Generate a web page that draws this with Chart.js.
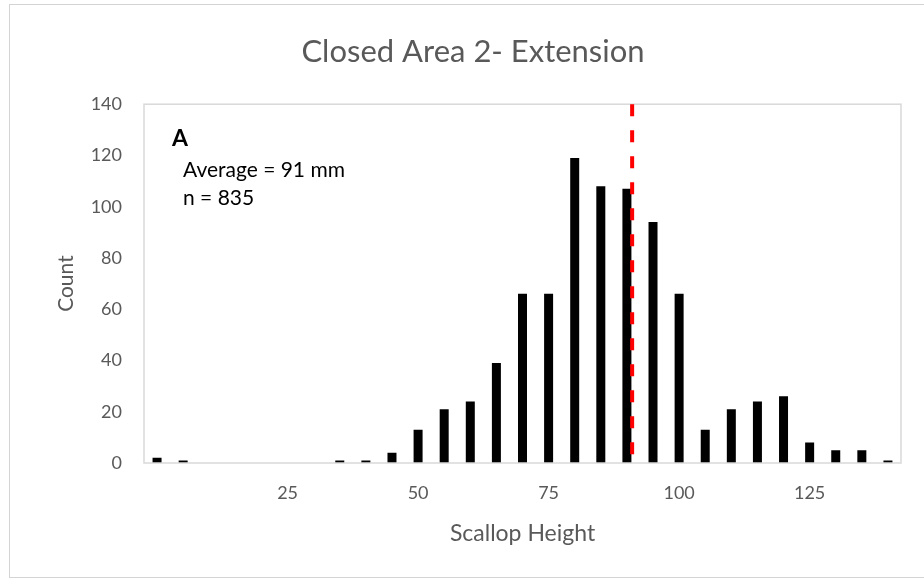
<!DOCTYPE html>
<html>
<head>
<meta charset="utf-8">
<title>Closed Area 2- Extension</title>
<script src="https://cdn.jsdelivr.net/npm/chart.js@4.4.1/dist/chart.umd.min.js"></script>
<style>
  html, body { margin: 0; padding: 0; background: #ffffff; overflow: hidden; }
  canvas { position: absolute; left: 0; top: 0; }
  #frame {
    position: absolute; left: 9px; top: 4px; width: 1000px; height: 572px;
    border: 1px solid #d4d4d4; pointer-events: none;
  }
</style>
</head>
<body>
<canvas id="chart" width="924" height="580"></canvas>
<div id="frame"></div>
<script>
// Shell height bins (mm) and the number of scallops measured in each
const heightBins = [0, 5, 10, 15, 20, 25, 30, 35, 40, 45, 50, 55, 60, 65, 70,
                    75, 80, 85, 90, 95, 100, 105, 110, 115, 120, 125, 130, 135, 140];
const counts     = [2, 1, 0, 0, 0, 0, 0, 1, 1, 4, 13, 21, 24, 39, 66,
                    66, 119, 108, 107, 94, 66, 13, 21, 24, 26, 8, 5, 5, 1];

// Labelled positions along the height axis
const xTickValues = [25, 50, 75, 100, 125];

// Summary statistics shown on the chart
const panelLetter = 'A';
const averageHeight = 91;
const sampleSize = 835;

const GREY_TEXT = '#595959';
const FONT = "Lato, 'Open Sans', 'Liberation Sans', sans-serif";
Chart.defaults.font.family = FONT;

// Light box around the plotting area, drawn over the bar bases
const plotFrame = {
  id: 'plotFrame',
  afterDatasetsDraw(chart) {
    const { ctx, chartArea: a } = chart;
    ctx.save();
    ctx.strokeStyle = '#d9d9d9';
    ctx.lineWidth = 1.5;
    ctx.strokeRect(a.left, a.top, a.right - a.left, a.bottom - a.top);
    ctx.restore();
  }
};

// Dashed red marker at the mean shell height
const averageMarker = {
  id: 'averageMarker',
  afterDatasetsDraw(chart) {
    const { ctx, chartArea: a, scales } = chart;
    const x = scales.x.getPixelForValue(averageHeight);
    ctx.save();
    ctx.strokeStyle = '#ff0000';
    ctx.lineWidth = 4;
    ctx.setLineDash([12, 14]);
    ctx.beginPath();
    ctx.moveTo(x, a.top);
    ctx.lineTo(x, a.bottom);
    ctx.stroke();
    ctx.restore();
  }
};

// Panel letter and summary text in the upper-left corner
const summaryText = {
  id: 'summaryText',
  afterDraw(chart) {
    const { ctx, chartArea: a } = chart;
    ctx.save();
    ctx.fillStyle = '#000000';
    ctx.textAlign = 'left';
    ctx.textBaseline = 'middle';
    ctx.font = `bold 23px ${FONT}`;
    ctx.fillText(panelLetter, a.left + 28, 139);
    ctx.font = `21px ${FONT}`;
    ctx.fillText(`Average = ${averageHeight} mm`, a.left + 39, 170);
    ctx.fillText(`n = ${sampleSize}`, a.left + 39, 198);
    ctx.restore();
  }
};

new Chart(document.getElementById('chart'), {
  type: 'bar',
  data: {
    datasets: [{
      data: heightBins.map((h, i) => ({ x: h, y: counts[i] })),
      backgroundColor: '#000000',
      borderWidth: 0,
      inflateAmount: 0,
      barThickness: 9
    }]
  },
  options: {
    responsive: false,
    animation: false,
    devicePixelRatio: 1,
    layout: { padding: { left: 45, right: 23, top: 0, bottom: 0 } },
    plugins: {
      legend: { display: false },
      tooltip: { enabled: false },
      title: {
        display: true,
        text: 'Closed Area 2- Extension',
        color: GREY_TEXT,
        font: { size: 31, weight: 'normal' },
        padding: { top: 33, bottom: 34 }
      }
    },
    scales: {
      x: {
        type: 'linear',
        offset: false,
        min: -2.5,
        max: 142.5,
        grid: { display: false, drawTicks: false, offset: false },
        border: { display: false },
        afterBuildTicks(scale) {
          scale.ticks = xTickValues.map(v => ({ value: v }));
        },
        ticks: {
          color: GREY_TEXT,
          font: { size: 18 },
          padding: 19,
          maxRotation: 0,
          autoSkip: false
        },
        title: {
          display: true,
          text: 'Scallop Height',
          color: GREY_TEXT,
          font: { size: 23 },
          padding: { top: 0, bottom: 33 }
        },
        afterFit(scale) { scale.height = 117; }
      },
      y: {
        min: 0,
        max: 140,
        grid: { display: false, drawTicks: false },
        border: { display: false },
        ticks: {
          stepSize: 20,
          color: GREY_TEXT,
          font: { size: 18 },
          padding: 22
        },
        title: {
          display: true,
          text: 'Count',
          color: GREY_TEXT,
          font: { size: 21 },
          padding: { top: 8.4, bottom: 0 }
        },
        afterFit(scale) { scale.width = 99; }
      }
    }
  },
  plugins: [plotFrame, averageMarker, summaryText]
});
</script>
</body>
</html>
